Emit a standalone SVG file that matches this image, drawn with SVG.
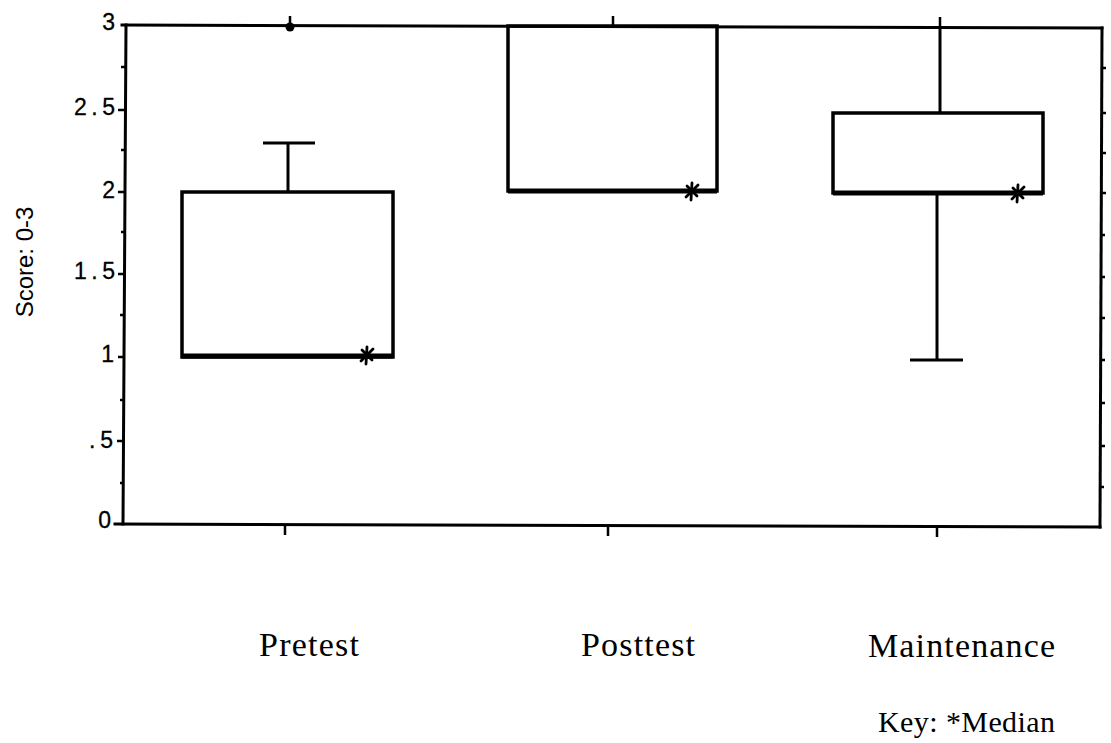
<svg xmlns="http://www.w3.org/2000/svg" width="1111" height="743" viewBox="0 0 1111 743">
<style>
  .ax { stroke:#000; stroke-width:3; fill:none; stroke-linecap:square; }
  .tk { stroke:#000; stroke-width:2.5; fill:none; }
  .box { stroke:#000; stroke-width:3.5; fill:none; }
  .med { stroke:#000; stroke-width:5; }
  .wh { stroke:#000; stroke-width:3; fill:none; }
  .star { stroke:#000; stroke-width:2.8; fill:none; stroke-linecap:round; }
  .yl { font-family:"Liberation Sans", Arial, sans-serif; font-size:23px; fill:#000; text-anchor:end; stroke:#000; stroke-width:0.3; }
  .xl { font-family:"Liberation Serif", "Times New Roman", serif; font-size:34px; fill:#000; }
  .ttl { font-family:"Liberation Sans", Arial, sans-serif; font-size:24px; fill:#000; text-anchor:middle; }
</style>
<defs>
  <g id="star">
    <line class="star" x1="-6" y1="6" x2="6" y2="-6"/>
    <line class="star" x1="-5" y1="-5" x2="5" y2="5"/>
    <line class="star" x1="0" y1="-8" x2="-1" y2="9"/>
  </g>
</defs>
<rect width="1111" height="743" fill="#fff"/>

<g id="axes">
  <line class="ax" x1="122" y1="25" x2="1102" y2="28"/>
  <line class="ax" x1="126" y1="25" x2="123" y2="524"/>
  <line class="ax" x1="115" y1="524" x2="1100" y2="527"/>
  <line class="ax" x1="1102" y1="28" x2="1100" y2="527"/>
  <path class="tk" d="M118 110H125 M118 192H125 M118 274H124 M118 357H124 M117 441H124 M121 67H126 M121 150H125 M121 232H125 M120 315H124 M120 400H124 M120 483H123"/>
  <path class="tk" d="M1102 68H1106 M1102 113H1106 M1102 153H1106 M1102 193H1106 M1101 235H1105 M1101 277H1105 M1101 318H1105 M1101 360H1105 M1101 403H1105 M1101 446H1105 M1100 487H1104"/>
  <path class="tk" d="M290 16V26 M613 16V26 M940 17V28"/>
  <path class="tk" d="M285 524V535 M608 525V536 M937 526V537"/>
</g>

<g id="y-labels">
  <text class="yl" x="115" y="30">3</text>
  <text class="yl" x="115" y="115" textLength="41" lengthAdjust="spacing">2.5</text>
  <text class="yl" x="115" y="198">2</text>
  <text class="yl" x="115" y="279" textLength="41" lengthAdjust="spacing">1.5</text>
  <text class="yl" x="114" y="362">1</text>
  <text class="yl" x="113" y="448" textLength="24" lengthAdjust="spacing">.5</text>
  <text class="yl" x="111" y="528">0</text>
  <text class="ttl" transform="translate(33 262) rotate(-90)">Score: 0-3</text>
</g>

<g id="pretest">
  <rect class="box" x="182" y="192" width="211" height="165"/>
  <line class="med" x1="182" y1="356" x2="393" y2="356"/>
  <line class="wh" x1="288" y1="192" x2="288" y2="143"/>
  <line class="wh" x1="263" y1="143" x2="315" y2="143"/>
  <circle cx="290" cy="27" r="4.5" fill="#000"/>
  <use href="#star" x="367" y="355"/>
</g>

<g id="posttest">
  <rect class="box" x="508" y="26" width="209" height="165"/>
  <line class="med" x1="508" y1="191" x2="717" y2="191"/>
  <use href="#star" x="692" y="191"/>
</g>

<g id="maintenance">
  <rect class="box" x="833" y="113" width="210" height="80"/>
  <line class="med" x1="833" y1="193" x2="1043" y2="193"/>
  <line class="wh" x1="940" y1="28" x2="940" y2="113"/>
  <line class="wh" x1="937" y1="193" x2="937" y2="360"/>
  <line class="wh" x1="910" y1="360" x2="963" y2="360"/>
  <use href="#star" x="1018" y="193"/>
</g>

<g id="x-labels">
  <text class="xl" x="259" y="656" textLength="100" lengthAdjust="spacing">Pretest</text>
  <text class="xl" x="581" y="656" textLength="114" lengthAdjust="spacing">Posttest</text>
  <text class="xl" x="868" y="657" textLength="187" lengthAdjust="spacing">Maintenance</text>
  <text class="xl" x="878" y="732" style="font-size:30px" textLength="177" lengthAdjust="spacing">Key: *Median</text>
</g>
</svg>
